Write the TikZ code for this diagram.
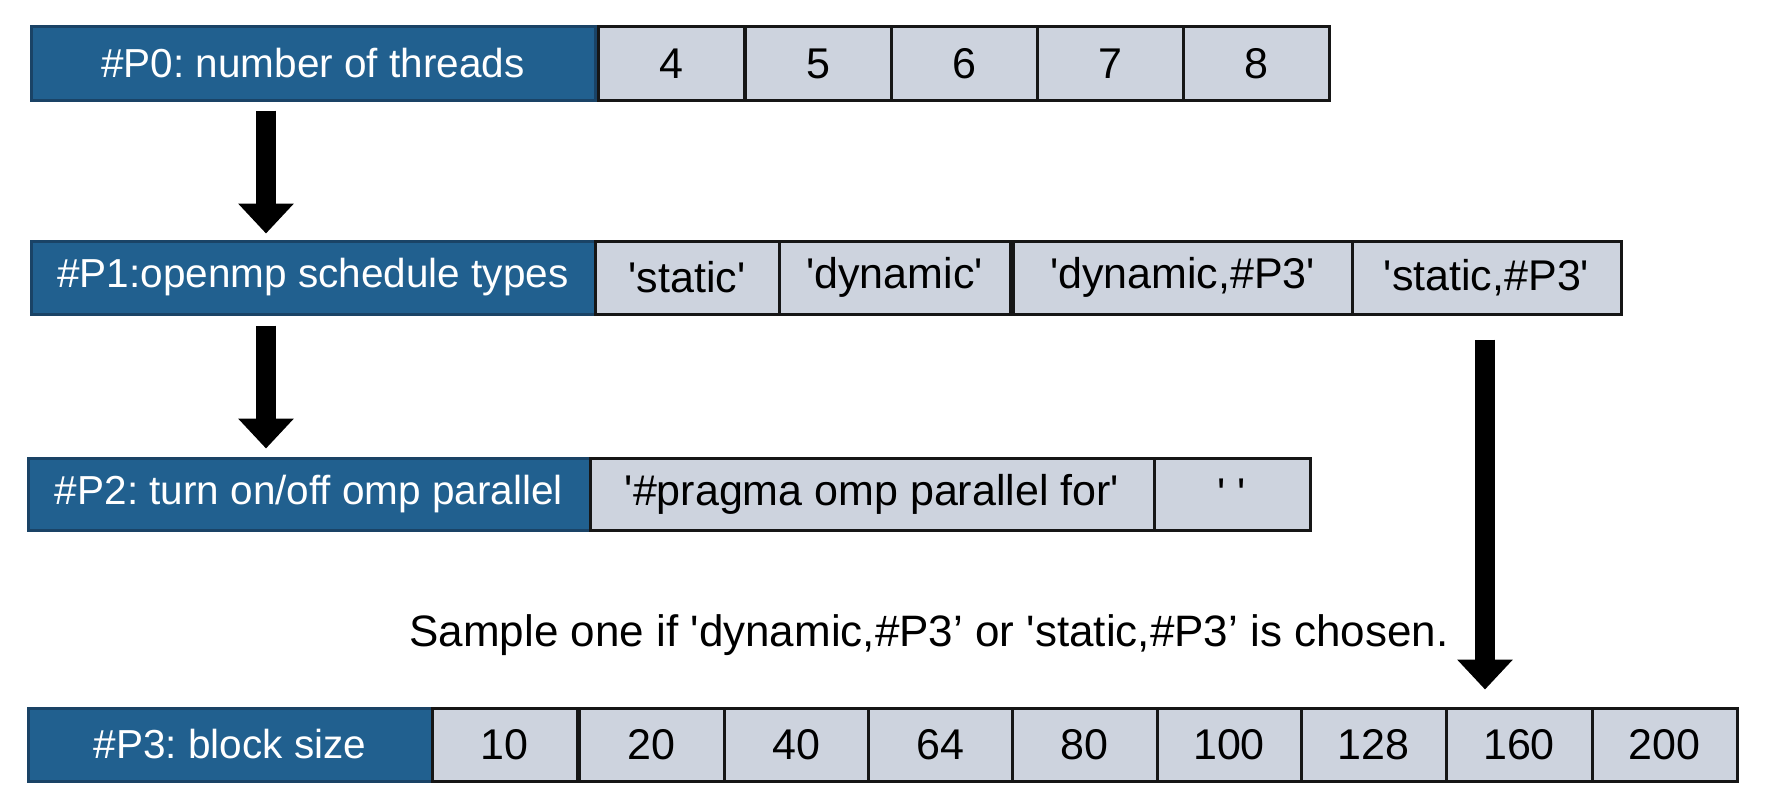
\documentclass[tikz,border=0pt]{standalone}
\usepackage{fontspec}
\newfontfamily\arialf{Liberation Sans}
\usetikzlibrary{arrows.meta,calc}
\definecolor{labblue}{RGB}{33,96,143}
\definecolor{labedge}{RGB}{26,67,102}
\definecolor{valfill}{RGB}{205,211,222}
\definecolor{valedge}{RGB}{22,22,22}
\frenchspacing
\tikzset{
  labbox/.style={draw=labedge, fill=labblue, line width=3pt, text=white,
    minimum height=73pt, inner sep=0pt, font=\arialf\fontsize{40.5}{48}\selectfont},
  valbox/.style={draw=valedge, fill=valfill, line width=3pt, text=black,
    minimum height=73pt, inner sep=0pt, font=\arialf\fontsize{43}{50}\selectfont},
  fatarrow/.style={line width=20pt, -{Triangle[width=54pt,length=30pt]}},
  notetext/.style={inner sep=0pt, font=\arialf\fontsize{44}{52}\selectfont}
}
\begin{document}
\begin{tikzpicture}[x=1pt,y=-1pt]
\useasboundingbox (0,0) rectangle (1777,808);
% row 0
\node[labbox, minimum width=564pt] (p0) at (313,63.5) {\#P0: number of threads};
\node[valbox, minimum width=146pt] (v4) at (671.5,63.5) {4};
\node[valbox, minimum width=146pt] (v5) at (818,63.5) {5};
\node[valbox, minimum width=146pt] (v6) at (964,63.5) {6};
\node[valbox, minimum width=146pt] (v7) at (1110,63.5) {7};
\node[valbox, minimum width=146pt] (v8) at (1256,63.5) {8};
% row 1
\node[labbox, minimum width=564pt] (p1) at (313,277.5) {\#P1:openmp schedule types};
\node[valbox, minimum width=184pt] (st) at (687,277.5) {'static'};
\node[valbox, minimum width=231pt] (dy) at (894.5,277.5) {'dynamic'};
\node[valbox, minimum width=339pt] (dp3) at (1182.5,277.5) {'dynamic,\#P3'};
\node[valbox, minimum width=269pt] (sp3) at (1486.5,277.5) {'static,\#P3'};
% row 2
\node[labbox, minimum width=562pt, minimum height=72pt] (p2) at (309,494) {\#P2: turn on/off omp parallel};
\node[valbox, minimum width=564pt, minimum height=72pt] (prag) at (872,494) {'\#pragma omp parallel for'};
\node[valbox, minimum width=156pt, minimum height=72pt] (emp) at (1232,494) {' '};
% row 3
\node[labbox, minimum width=404pt] (p3) at (230,744.5) {\#P3: block size};
\node[valbox, minimum width=145pt] (b10) at (504.5,744.5) {10};
\node[valbox, minimum width=145pt] (b20) at (651.5,744.5) {20};
\node[valbox, minimum width=144pt] (b40) at (796,744.5) {40};
\node[valbox, minimum width=144pt] (b64) at (940,744.5) {64};
\node[valbox, minimum width=145pt] (b80) at (1084.5,744.5) {80};
\node[valbox, minimum width=144pt] (b100) at (1229,744.5) {100};
\node[valbox, minimum width=145pt] (b128) at (1373.5,744.5) {128};
\node[valbox, minimum width=146pt] (b160) at (1519,744.5) {160};
\node[valbox, minimum width=145pt] (b200) at (1664.5,744.5) {200};
% note
\node[notetext] (note) at (929,635) {Sample one if 'dynamic,\#P3’ or 'static,\#P3’ is chosen.};
% arrows
\draw[fatarrow] ($(p0.south)+(-47,9)$) -- ($(p1.north)+(-47,-6)$);
\draw[fatarrow] ($(p1.south)+(-47,10)$) -- ($(p1.south |- p2.north)+(-47,-8)$);
\draw[fatarrow] ($(sp3.south)+(-1.5,24)$) -- ($(sp3.south |- b160.north)+(-1.5,-17)$);
\end{tikzpicture}
\end{document}
